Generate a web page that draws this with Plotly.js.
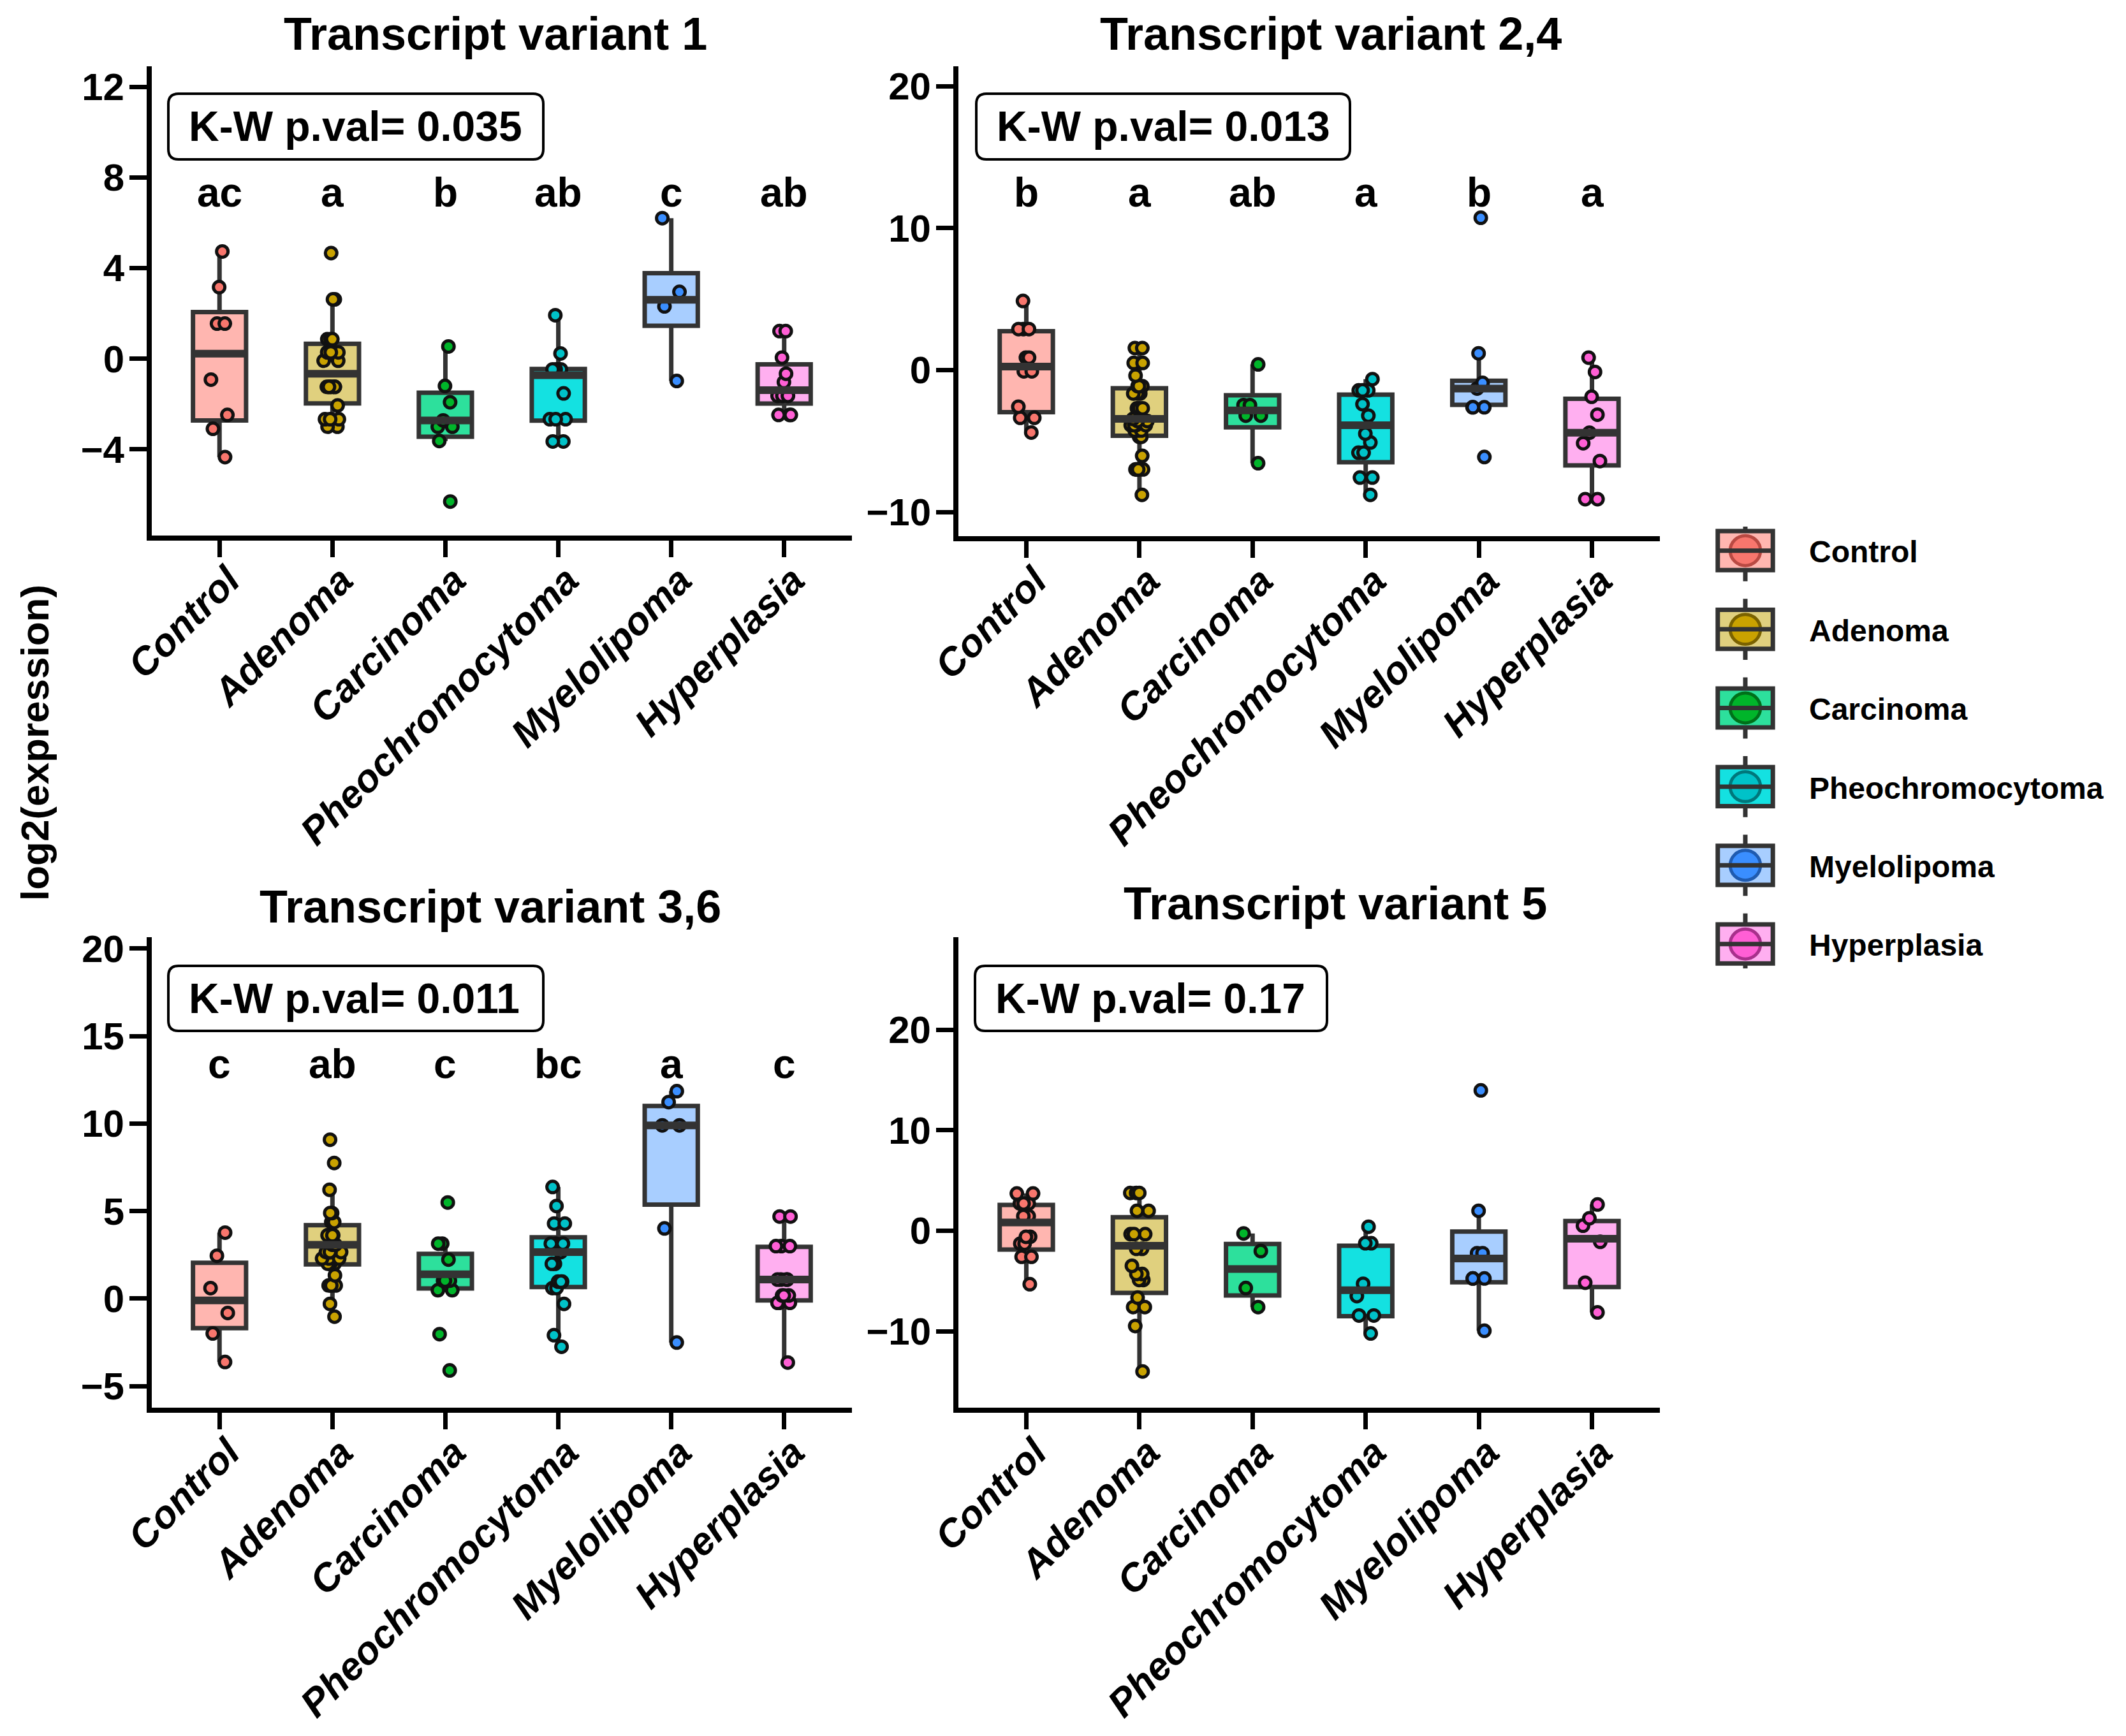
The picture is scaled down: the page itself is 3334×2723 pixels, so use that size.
<!DOCTYPE html>
<html>
<head>
<meta charset="utf-8">
<script src="https://cdn.plot.ly/plotly-3.0.1.min.js"></script>
<style>
html,body{margin:0;padding:0;background:#fff;}
#chart{width:3334px;height:2723px;}
</style>
</head>
<body>
<div id="chart"></div>
<script>
// ---------------- DATA ----------------
const groups = ['Control','Adenoma','Carcinoma','Pheochromocytoma','Myelolipoma','Hyperplasia'];
const panelTitles = ['Transcript variant 1','Transcript variant 2,4','Transcript variant 3,6','Transcript variant 5'];
const kwPvals = ['0.035','0.013','0.011','0.17'];
const letters1 = ['ac','a','b','ab','c','ab'];
const letters2 = ['b','a','ab','a','b','a'];
const letters3 = ['c','ab','c','bc','a','c'];
const letters4 = [];

// Transcript variant 1
const v1_q1  = [-2.72,-1.97,-3.44,-2.73, 1.45,-1.98];
const v1_med = [ 0.22,-0.66,-2.72,-0.73, 2.60,-1.39];
const v1_q3  = [ 2.06, 0.66,-1.50,-0.45, 3.77,-0.25];
const v1_lo  = [-4.34,-3.00,-3.63,-3.65,-0.98,-2.48];
const v1_hi  = [ 4.73, 2.62, 0.54, 1.92, 6.20, 1.22];
const v1_pts = [
  [4.73,3.16,1.55,1.55,-0.92,-2.48,-3.09,-4.34],
  [4.66,2.62,2.62,0.86,0.86,0.86,0.28,0.28,0.28,-0.09,-0.09,-1.24,-1.24,-1.24,-1.24,-1.24,-1.24,-2.06,-2.67,-2.67,-2.67,-3.0,-3.0],
  [0.54,-1.2,-1.92,-2.72,-3.0,-3.0,-3.63,-6.3],
  [1.92,0.23,-0.47,-0.47,-0.47,-0.47,-1.53,-2.67,-2.67,-2.67,-3.65,-3.65],
  [6.2,2.95,2.31,-0.98],
  [1.22,1.22,0.05,-0.66,-1.03,-1.64,-1.64,-1.64,-2.48,-2.48,-2.48]
];

// Transcript variant 2,4
const v2_q1  = [-2.96,-4.63,-4.03,-6.49,-2.45,-6.71];
const v2_med = [ 0.25,-3.44,-2.84,-3.88,-1.30,-4.41];
const v2_q3  = [ 2.74,-1.28,-1.77,-1.73,-0.75,-2.02];
const v2_lo  = [-4.40,-8.79,-6.56,-8.79,-2.62,-9.09];
const v2_hi  = [ 4.87, 1.55, 0.40,-0.64, 1.18, 0.88];
const v2_pts = [
  [4.87,2.89,2.89,2.89,0.88,0.88,-0.09,-0.09,-2.58,-3.36,-3.36,-4.4],
  [1.55,1.55,0.5,0.5,-0.39,-1.13,-1.13,-1.13,-1.13,-1.65,-1.65,-1.65,-2.69,-2.69,-2.69,-3.44,-3.59,-3.59,-3.88,-3.88,-3.88,-3.88,-4.26,-4.26,-4.26,-4.7,-4.7,-6.04,-7.0,-7.0,-7.0,-7.0,-8.79],
  [0.4,-2.47,-2.47,-3.21,-3.21,-6.56],
  [-0.64,-1.43,-1.43,-1.43,-2.4,-3.21,-4.48,-5.1,-5.82,-5.82,-7.57,-7.57,-8.79],
  [10.73,1.18,-0.9,-1.3,-2.62,-2.62,-2.62,-6.12],
  [0.88,-0.13,-1.88,-3.14,-4.41,-5.15,-6.41,-9.09,-9.09]
];

// Transcript variant 3,6
const v3_q1  = [-1.69, 1.96, 0.58, 0.66, 5.37,-0.10];
const v3_med = [-0.10, 3.08, 1.39, 2.66, 9.90, 1.09];
const v3_q3  = [ 2.05, 4.20, 2.56, 3.50,11.01, 2.96];
const v3_lo  = [-3.62,-1.03, 0.48,-2.75,-2.51,-3.65];
const v3_hi  = [ 3.77, 6.22, 3.14, 6.38,11.85, 4.69];
const v3_pts = [
  [3.77,2.45,0.6,-0.82,-1.99,-3.62],
  [9.08,7.75,6.22,4.89,4.89,4.37,4.37,3.62,3.62,3.62,3.62,3.08,3.08,2.66,2.66,2.66,2.66,2.66,2.29,2.29,2.29,2.29,1.99,1.99,1.99,1.99,1.33,0.75,0.75,0.75,-0.3,-1.03],
  [5.49,3.14,3.14,2.23,1.03,1.03,1.03,0.48,0.48,-2.03,-4.1],
  [6.38,5.29,4.29,4.29,3.14,3.14,3.14,2.66,1.99,1.99,0.97,0.97,0.97,0.6,0.6,-0.3,-2.09,-2.75],
  [11.85,11.23,9.9,9.9,4.01,-2.51],
  [4.69,4.69,3.0,3.0,3.0,1.09,1.09,1.09,1.09,0.18,0.18,0.18,-0.24,-0.24,-0.24,-3.65]
];

// Transcript variant 5
const v4_q1  = [-1.87,-6.18,-6.44,-8.50,-5.13,-5.60];
const v4_med = [ 0.82,-1.49,-3.81,-5.91,-2.76,-0.80];
const v4_q3  = [ 2.57, 1.35,-1.32,-1.49,-0.08, 0.97];
const v4_lo  = [-5.32,-14.0,-7.59,-10.22,-9.95,-8.12];
const v4_hi  = [ 3.70, 3.76,-0.27, 0.40, 1.98, 2.61];
const v4_pts = [
  [3.7,3.7,2.71,2.71,2.71,1.45,1.45,-0.6,-0.6,-1.28,-1.28,-2.59,-2.59,-5.32],
  [3.76,3.76,3.76,1.98,1.98,-0.34,-0.34,-0.34,-1.8,-1.8,-3.49,-4.3,-4.3,-4.9,-4.9,-6.65,-7.59,-7.59,-9.48,-14.0],
  [-0.27,-2.02,-5.7,-7.59],
  [0.4,-1.24,-1.24,-5.28,-6.5,-8.43,-8.43,-10.22],
  [13.96,1.98,-2.23,-2.23,-4.75,-4.75,-4.75,-9.95],
  [2.61,1.24,0.5,-1.1,-5.17,-8.12]
];

const yTickVals1 = [-4,0,4,8,12];
const yTickVals2 = [-10,0,10,20];
const yTickVals3 = [-5,0,5,10,15,20];
const yTickVals4 = [-10,0,10,20];
const yTitle = 'log2(expression)';

// ---------------- STYLE ----------------
const fillColors  = ['#FFB6B0','#E0D07E','#2DE09C','#14E1E1','#A8CEFF','#FFAFF0'];
const pointColors = ['#F8766D','#C9A200','#00B52A','#00C2C8','#3A8EFF','#FF5FD5'];
const ringColors  = ['#B94A43','#7A6200','#00701A','#00777B','#1F5BB0','#A8308C'];
const FONT = 'Liberation Sans, Arial, Helvetica, sans-serif';
const W = 3334, H = 2723;
const px = x => x / W;
const py = y => 1 - y / H;

const panels = [
  {q1:v1_q1,med:v1_med,q3:v1_q3,lo:v1_lo,hi:v1_hi,pts:v1_pts,letters:letters1,ticks:yTickVals1,range:[-7.8,12.9]},
  {q1:v2_q1,med:v2_med,q3:v2_q3,lo:v2_lo,hi:v2_hi,pts:v2_pts,letters:letters2,ticks:yTickVals2,range:[-11.7,21.4]},
  {q1:v3_q1,med:v3_med,q3:v3_q3,lo:v3_lo,hi:v3_hi,pts:v3_pts,letters:letters3,ticks:yTickVals3,range:[-6.23,20.65]},
  {q1:v4_q1,med:v4_med,q3:v4_q3,lo:v4_lo,hi:v4_hi,pts:v4_pts,letters:letters4,ticks:yTickVals4,range:[-17.6,29.2]}
];

// panel frames in canvas pixels
const frames = [
  {x0:238, x1:1336, y0:104,  y1:840,  title:[777,53],   kw:[264,147,852,250],   letterY:302},
  {x0:1503,x1:2603, y0:104,  y1:841,  title:[2087,53],  kw:[1531,147,2117,250], letterY:302},
  {x0:238, x1:1336, y0:1470, y1:2208, title:[769,1422], kw:[264,1515,852,1617], letterY:1669},
  {x0:1503,x1:2603, y0:1470, y1:2208, title:[2094,1417],kw:[1529,1515,2081,1617],letterY:1669}
];

const traces = [];
const medTraces = [];
const annotations = [];
const shapes = [];
const layout = {
  width: W, height: H,
  margin: {l:0, r:0, t:0, b:0},
  paper_bgcolor: '#ffffff', plot_bgcolor: '#ffffff',
  boxmode: 'overlay',
  showlegend: true,
  legend: {
    x: px(2655), y: py(826), xanchor: 'left', yanchor: 'top',
    font: {family: FONT, size: 48, color: '#000', weight: 'bold'},
    itemwidth: 190, tracegroupgap: 58, traceorder: 'grouped',
    bgcolor: 'rgba(0,0,0,0)', borderwidth: 0
  },
  font: {family: FONT, color: '#000'}
};

function roundRect(x0, y0, x1, y1, r) {
  const X = v => px(v), Y = v => py(v);
  return 'M' + X(x0 + r) + ',' + Y(y0) +
    ' L' + X(x1 - r) + ',' + Y(y0) +
    ' Q' + X(x1) + ',' + Y(y0) + ' ' + X(x1) + ',' + Y(y0 + r) +
    ' L' + X(x1) + ',' + Y(y1 - r) +
    ' Q' + X(x1) + ',' + Y(y1) + ' ' + X(x1 - r) + ',' + Y(y1) +
    ' L' + X(x0 + r) + ',' + Y(y1) +
    ' Q' + X(x0) + ',' + Y(y1) + ' ' + X(x0) + ',' + Y(y1 - r) +
    ' L' + X(x0) + ',' + Y(y0 + r) +
    ' Q' + X(x0) + ',' + Y(y0) + ' ' + X(x0 + r) + ',' + Y(y0) + ' Z';
}

panels.forEach((p, k) => {
  const f = frames[k];
  const xa = k === 0 ? 'x' : 'x' + (k + 1);
  const ya = k === 0 ? 'y' : 'y' + (k + 1);
  const xKey = k === 0 ? 'xaxis' : 'xaxis' + (k + 1);
  const yKey = k === 0 ? 'yaxis' : 'yaxis' + (k + 1);

  layout[xKey] = {
    domain: [px(f.x0), px(f.x1)], anchor: ya,
    type: 'category', categoryorder: 'array', categoryarray: groups,
    range: [-0.6, 5.6],
    showline: true, linewidth: 8, linecolor: '#000',
    ticks: 'outside', ticklen: 26, tickwidth: 7, tickcolor: '#000',
    tickangle: -45, ticklabelstandoff: -24, ticklabelshift: 14,
    tickfont: {family: FONT, size: 61, color: '#000', weight: 'bold', style: 'italic'},
    showgrid: false, zeroline: false, fixedrange: true
  };
  layout[yKey] = {
    domain: [py(f.y1), py(f.y0)], anchor: xa,
    range: p.range, tickmode: 'array', tickvals: p.ticks,
    showline: true, linewidth: 8, linecolor: '#000',
    ticks: 'outside', ticklen: 27, tickwidth: 7, tickcolor: '#000',
    ticklabelstandoff: -4,
    tickfont: {family: FONT, size: 60, color: '#000', weight: 'bold'},
    showgrid: false, zeroline: false, fixedrange: true
  };

  groups.forEach((g, i) => {
    traces.push({
      type: 'box', name: g, legendgroup: g, showlegend: k === 0,
      x: [g], y: [p.pts[i]],
      q1: [p.q1[i]], median: [p.med[i]], q3: [p.q3[i]],
      lowerfence: [p.lo[i]], upperfence: [p.hi[i]],
      xaxis: xa, yaxis: ya,
      boxpoints: 'all', jitter: 0.4, pointpos: 0, width: 0.47, whiskerwidth: 0,
      fillcolor: fillColors[i],
      line: {color: '#333333', width: 7},
      marker: {color: pointColors[i], size: 18, opacity: 1, line: {color: '#111111', width: 5}},
      hoverinfo: 'skip'
    });
    if (p.letters.length) {
      annotations.push({
        xref: xa, yref: 'paper', x: g, y: py(f.letterY),
        text: p.letters[i], showarrow: false, xanchor: 'center', yanchor: 'middle',
        font: {family: FONT, size: 64, color: '#000', weight: 'bold'}
      });
    }
  });

  // thick median bars drawn on top, positioned by the axes from the median values
  medTraces.push({
    type: 'scatter', mode: 'markers', x: groups, y: p.med,
    xaxis: xa, yaxis: ya, showlegend: false, hoverinfo: 'skip',
    marker: {symbol: 'line-ew', size: 58, color: '#333333', line: {color: '#333333', width: 12}}
  });

  // panel title
  annotations.push({
    xref: 'paper', yref: 'paper', x: px(f.title[0]), y: py(f.title[1]),
    text: panelTitles[k], showarrow: false, xanchor: 'center', yanchor: 'middle',
    font: {family: FONT, size: 72, color: '#000', weight: 'bold'}
  });
  // Kruskal-Wallis label box
  const b = f.kw;
  shapes.push({
    type: 'path', xref: 'paper', yref: 'paper', path: roundRect(b[0], b[1], b[2], b[3], 16),
    line: {color: '#000', width: 4}, fillcolor: '#ffffff', layer: 'above'
  });
  annotations.push({
    xref: 'paper', yref: 'paper', x: px(b[0] + 30), y: py((b[1] + b[3]) / 2),
    text: 'K-W p.val= ' + kwPvals[k], showarrow: false, xanchor: 'left', yanchor: 'middle',
    font: {family: FONT, size: 66, color: '#000', weight: 'bold'}
  });
});

annotations.push({
  xref: 'paper', yref: 'paper', x: px(55), y: py(1165),
  text: yTitle, showarrow: false, textangle: -90, xanchor: 'center', yanchor: 'middle',
  font: {family: FONT, size: 62, color: '#000', weight: 'bold'}
});

layout.annotations = annotations;
layout.shapes = shapes;

const gd = document.getElementById('chart');
Plotly.newPlot(gd, traces.concat(medTraces), layout, {staticPlot: true, displayModeBar: false}).then(() => {
  try {
    const NS = 'http://www.w3.org/2000/svg';
    // nudge the legend block slightly left (Plotly keeps it flush with the right edge)
    const lg = gd.querySelector('g.legend');
    if (lg) {
      const m = /translate\(\s*([-\d.]+)[ ,]+([-\d.]+)\s*\)/.exec(lg.getAttribute('transform') || '');
      if (m) lg.setAttribute('transform', 'translate(' + (parseFloat(m[1]) - 18) + ',' + m[2] + ')');
    }
    const items = gd.querySelectorAll('.legend .traces');
    items.forEach((item, i) => {
      const box = item.querySelector('path.legendbox');
      if (!box) return;
      const t = box.getAttribute('transform') || '';
      const sx = 7.2, sy = 5.1;
      const tr = t + ' scale(' + sx + ',' + sy + ')';
      box.setAttribute('transform', tr);
      box.style.vectorEffect = 'non-scaling-stroke';
      box.style.strokeWidth = '7px';
      box.style.stroke = '#333333';
      box.style.fill = fillColors[i];
      box.style.fillOpacity = 1;
      const parent = box.parentNode;
      const circ = document.createElementNS(NS, 'path');
      circ.setAttribute('d', 'M3.3,0A3.3,4.6 0 1,1 -3.3,0A3.3,4.6 0 1,1 3.3,0Z');
      circ.setAttribute('transform', tr);
      circ.setAttribute('style', 'vector-effect:non-scaling-stroke;fill:' + pointColors[i] + ';stroke:' + ringColors[i] + ';stroke-width:5px');
      parent.appendChild(circ);
      const lines = document.createElementNS(NS, 'path');
      lines.setAttribute('d', 'M6,0H-6M0,-6V-9.4M0,6V9.4');
      lines.setAttribute('transform', tr);
      lines.setAttribute('style', 'vector-effect:non-scaling-stroke;fill:none;stroke:#333333;stroke-width:7px');
      parent.appendChild(lines);
    });
  } catch (e) { console.log(e); }
});
</script>
</body>
</html>
